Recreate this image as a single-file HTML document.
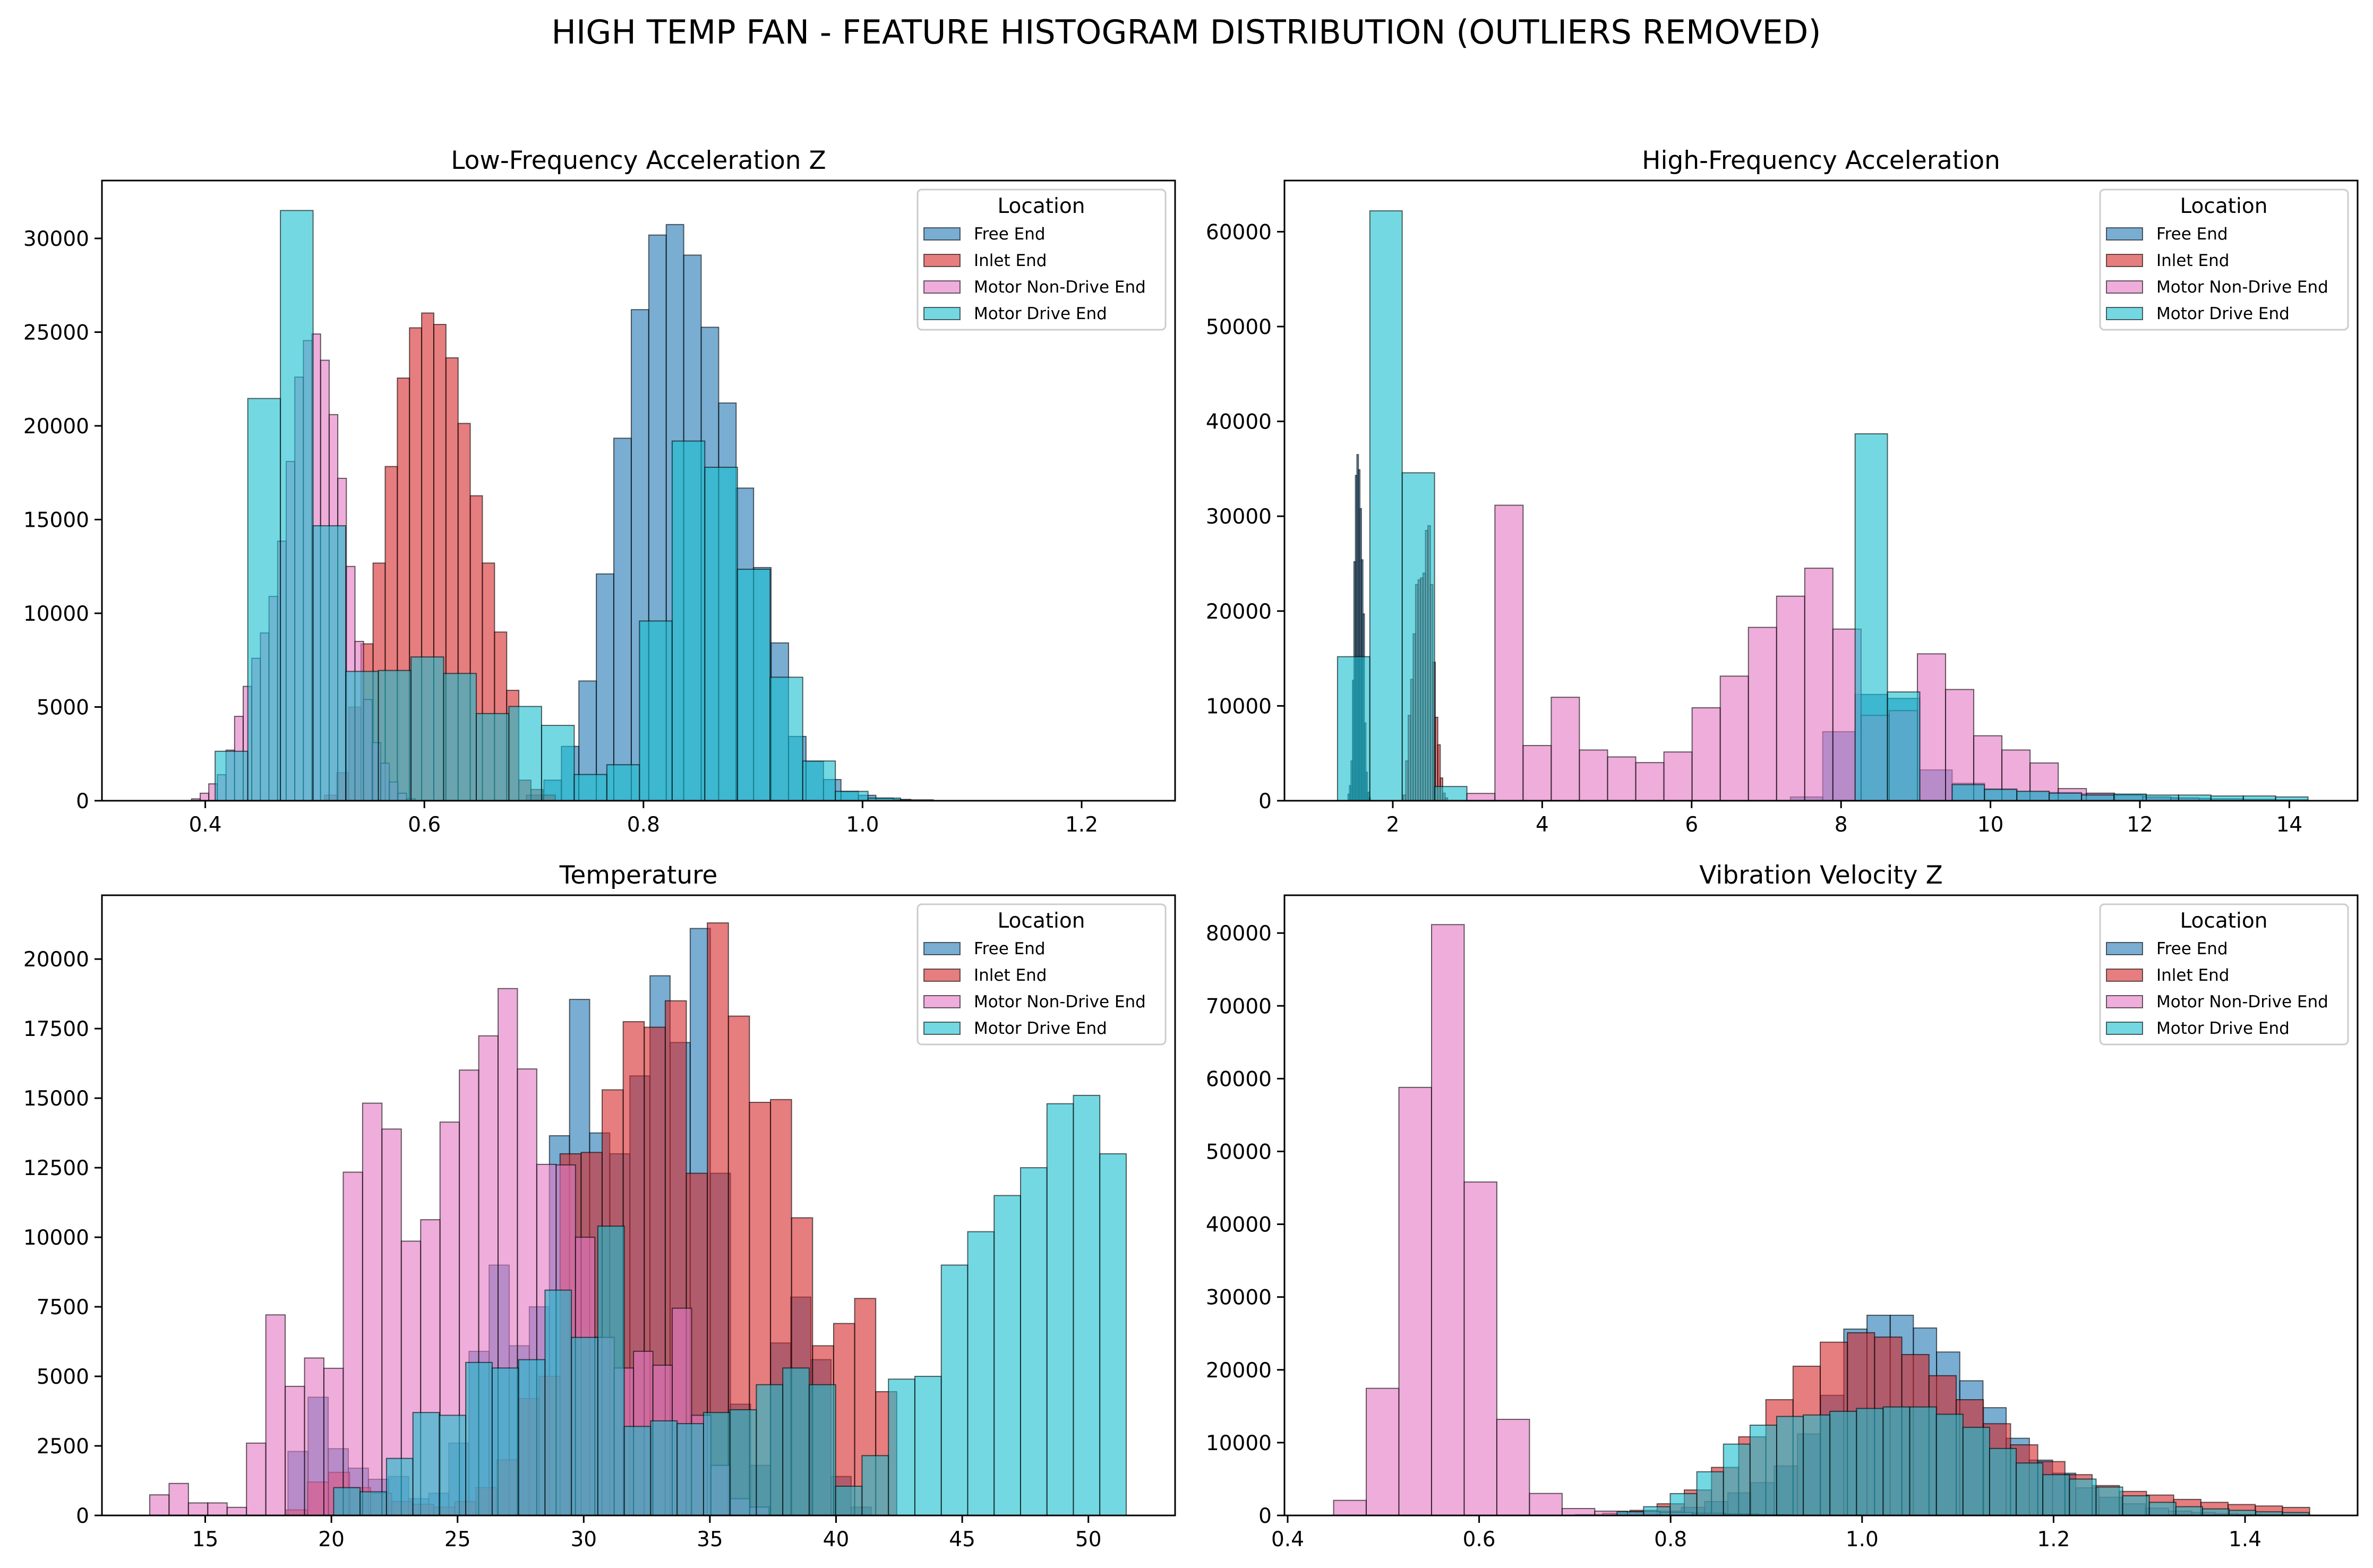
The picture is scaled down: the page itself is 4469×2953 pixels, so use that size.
<!DOCTYPE html>
<html><head><meta charset="utf-8"><style>
html,body{margin:0;padding:0;background:#fff}
svg{display:block}
text{font-family:"DejaVu Sans","Liberation Sans",sans-serif;fill:#000}
</style></head><body>
<svg id="fig" xmlns="http://www.w3.org/2000/svg" width="4469" height="2953" viewBox="0 0 4469 2953">
<rect width="4469" height="2953" fill="#fff"/>
<text x="2234" y="82" font-size="62" text-anchor="middle">HIGH TEMP FAN - FEATURE HISTOGRAM DISTRIBUTION (OUTLIERS REMOVED)</text>
</svg>
<script>
// ---------- Low-Frequency Acceleration Z ----------
const lfFreeStart=0.6932, lfFreeWidth=0.01595;
const lfFreeCounts=[300,1100,2900,6390,12100,19340,26200,30180,30740,29110,25260,21220,16680,12440,8420,3430,2100,1130,500,290,140,70];
const lfInletStart=0.5088, lfInletWidth=0.01109;
const lfInletCounts=[300,1500,5000,8370,12680,17830,22550,25230,26020,25410,23630,20130,16270,12680,9000,5890,1100,600,300];
const lfNonDriveStart=0.3875, lfNonDriveWidth=0.00785;
const lfNonDriveCounts=[100,400,900,1390,2700,4500,6100,7600,8950,10900,13850,18100,22600,24550,24900,23500,20600,17200,12500,8500,5400,3100,2000,1000,400,100];
const lfDriveStart=0.409, lfDriveWidth=0.0298;
const lfDriveCounts=[2640,21460,31490,14670,6900,6950,7670,6790,4650,5030,4020,1400,1920,9590,19190,17790,12350,6590,2120,500,140,50];
// ---------- High-Frequency Acceleration ----------
const hfFreeSpikeStart=1.40, hfFreeSpikeWidth=0.02;
const hfFreeSpikeCounts=[700,1600,4200,12700,25200,34300,36500,34900,30800,25400,19700,8200,3000,900,300];
const hfFreeStart=1.26, hfFreeWidth=0.433;
const hfFreeCounts=[0,0,0,0,0,0,0,0,0,0,0,0,0,0,400,7280,11210,10790,3250,1840,1240,940,860,730,640,300,250,200,150,100];
const hfInletStart=2.14, hfInletWidth=0.033;
const hfInletCounts=[600,4200,9000,12800,17600,22800,23300,23500,24000,28500,29000,22800,14600,8800,5900,2400,800,300];
const hfNonDriveStart=2.99, hfNonDriveWidth=0.377;
const hfNonDriveCounts=[770,31160,5820,10910,5350,4620,4020,5140,9800,13140,18280,21570,24520,18100,9000,9500,15490,11730,6850,5350,3980,1280,800,600,400,300];
const hfDriveStart=1.26, hfDriveWidth=0.433;
const hfDriveCounts=[15190,62200,34580,1500,0,0,0,0,0,0,0,0,0,0,0,0,38690,11470,0,1700,1200,1000,800,600,700,600,600,500,500,400];
// ---------- Temperature ----------
const tFreeStart=18.28, tFreeWidth=0.797;
const tFreeCounts=[2300,4250,2400,1700,1300,1400,600,800,2600,5900,9000,6100,7500,13650,18550,13750,13000,15800,19400,17000,21100,12300,4000,1800,6200,7850,5600,1400,300];
const tInletStart=18.22, tInletWidth=0.834;
const tInletCounts=[200,1200,1550,1000,800,500,400,300,500,1000,2000,4200,5000,13000,13050,15300,17750,17550,18500,12300,21300,17950,14850,14950,10700,6100,6900,7800,4450];
const tNonDriveStart=12.80, tNonDriveWidth=0.767;
const tNonDriveCounts=[740,1150,450,450,290,2600,7210,4640,5660,5290,12340,14820,13890,9860,10630,14140,16010,17240,18940,16050,12620,12600,10000,6400,5300,5900,5400,7450,3600,1800,600,300];
const tDriveStart=20.09, tDriveWidth=1.047;
const tDriveCounts=[1000,850,2050,3700,3600,5500,5300,5600,8100,6400,10400,3200,3400,3300,3700,3800,4700,5300,4700,1050,2150,4900,5000,9000,10200,11500,12500,14800,15100,13000];
// ---------- Vibration Velocity Z ----------
const vFreeStart=0.7386, vFreeWidth=0.02423;
const vFreeCounts=[100,300,600,1100,1900,3100,4500,6800,11200,16500,25600,27500,27500,25750,22450,18500,14800,10600,7600,5800,3800,2500,1600,1000,600,400,250,150,100,60,30];
const vInletStart=0.7007, vInletWidth=0.0284;
const vInletCounts=[100,300,700,1600,3500,6600,10800,15900,20500,23800,25100,24500,22100,19200,15900,12600,9700,7400,5600,4100,3300,2800,2200,1800,1500,1300,1100];
const vNonDriveStart=0.448, vNonDriveWidth=0.0341;
const vNonDriveCounts=[2070,17460,58800,81160,45800,13200,3020,950,590,530,400,300,200,100];
const vDriveStart=0.744, vDriveWidth=0.0278;
const vDriveCounts=[500,1200,3000,6000,9800,12400,13600,13800,14300,14700,14900,14900,13900,12100,9200,7200,5600,5000,3900,2700,1800,1200,900,700,500,400];

const seriesNames=["Free End","Inlet End","Motor Non-Drive End","Motor Drive End"];
const tlXTicks=[0.4,0.6,0.8,1.0,1.2], tlYTicks=[0,5000,10000,15000,20000,25000,30000];
const trXTicks=[2,4,6,8,10,12,14], trYTicks=[0,10000,20000,30000,40000,50000,60000];
const blXTicks=[15,20,25,30,35,40,45,50], blYTicks=[0,2500,5000,7500,10000,12500,15000,17500,20000];
const brXTicks=[0.4,0.6,0.8,1.0,1.2,1.4], brYTicks=[0,10000,20000,30000,40000,50000,60000,70000,80000];

const COLORS=["#1f77b4","#d62728","#e377c2","#17becf"];
const NS="http://www.w3.org/2000/svg";
const svg=document.getElementById('fig');
function mk(tag,attrs,parent){const e=document.createElementNS(NS,tag);for(const k in attrs)e.setAttribute(k,attrs[k]);(parent||svg).appendChild(e);return e;}

function panel(cfg){
  const g=mk('g',{});
  
  
  const x=v=>cfg.x0px+(v-cfg.x0v)*cfg.xs;
  const y=c=>cfg.B-c*cfg.ys;
  cfg.series.forEach((ser,si)=>{
    ser.forEach(seg=>{
      seg.counts.forEach((c,i)=>{
        if(c<=0)return;
        const x1=x(seg.start+i*seg.width), x2=x(seg.start+(i+1)*seg.width);
        const r=mk('rect',{x:x1,y:y(c),width:Math.max(x2-x1,1),height:y(0)-y(c),fill:COLORS[si],'fill-opacity':0.6,stroke:'rgba(0,0,0,0.6)','stroke-width':2},g);
        
        
      });
    });
  });
  const fr=mk('rect',{x:cfg.L,y:cfg.T,width:cfg.R-cfg.L,height:cfg.B-cfg.T,fill:'none',stroke:'#000','stroke-width':3},g);
  
  
  cfg.xt.forEach(v=>{
    const px=x(v);
    mk('line',{x1:px,x2:px,y1:cfg.B,y2:cfg.B+14,stroke:'#000','stroke-width':3},g);
    const t=mk('text',{x:px,y:cfg.B+58,'font-size':39,'text-anchor':'middle'},g);
    t.textContent=cfg.xfmt(v);
    
    
  });
  cfg.yt.forEach(v=>{
    const py=y(v);
    mk('line',{x1:cfg.L-14,x2:cfg.L,y1:py,y2:py,stroke:'#000','stroke-width':3},g);
    const t=mk('text',{x:cfg.L-24,y:py+14,'font-size':39,'text-anchor':'end'},g);
    t.textContent=String(v);
    
    
  });
  const tt=mk('text',{x:(cfg.L+cfg.R)/2,y:cfg.T-22,'font-size':47,'text-anchor':'middle'},g);
  tt.textContent=cfg.title;
  
  
  const lg=mk('g',{},g);
  
  
  const lx=cfg.R-18-467, ly=cfg.T+17;
  mk('rect',{x:lx,y:ly,width:467,height:264,rx:8,fill:'#fff','fill-opacity':0.8,stroke:'#ccc','stroke-width':3},lg);
  const lt=mk('text',{x:lx+233,y:ly+44,'font-size':39,'text-anchor':'middle'},lg);
  lt.textContent='Location';
  
  
  seriesNames.forEach((n,i)=>{
    const cy=ly+83+i*50;
    mk('rect',{x:lx+12,y:cy-11,width:68,height:23,fill:COLORS[i],'fill-opacity':0.6,stroke:'rgba(0,0,0,0.6)','stroke-width':2},lg);
    const et=mk('text',{x:lx+106,y:cy+11,'font-size':31},lg);
    et.textContent=n;
    
    
  });
}
const f1=v=>v.toFixed(1);
panel({name:'low-frequency-acceleration-panel',title:'Low-Frequency Acceleration Z',L:192,R:2213,T:340,B:1508,x0px:386.6,x0v:0.4,xs:2063,ys:0.0353,xt:tlXTicks,yt:tlYTicks,xfmt:f1,
 series:[[{start:lfFreeStart,width:lfFreeWidth,counts:lfFreeCounts}],[{start:lfInletStart,width:lfInletWidth,counts:lfInletCounts}],[{start:lfNonDriveStart,width:lfNonDriveWidth,counts:lfNonDriveCounts}],[{start:lfDriveStart,width:lfDriveWidth,counts:lfDriveCounts}]]});
panel({name:'high-frequency-acceleration-panel',title:'High-Frequency Acceleration',L:2419,R:4440,T:340,B:1508,x0px:2623,x0v:2,xs:140.7,ys:0.01786,xt:trXTicks,yt:trYTicks,xfmt:v=>String(v),
 series:[[{start:hfFreeSpikeStart,width:hfFreeSpikeWidth,counts:hfFreeSpikeCounts},{start:hfFreeStart,width:hfFreeWidth,counts:hfFreeCounts}],[{start:hfInletStart,width:hfInletWidth,counts:hfInletCounts}],[{start:hfNonDriveStart,width:hfNonDriveWidth,counts:hfNonDriveCounts}],[{start:hfDriveStart,width:hfDriveWidth,counts:hfDriveCounts}]]});
panel({name:'temperature-panel',title:'Temperature',L:192,R:2213,T:1686,B:2854,x0px:386.5,x0v:15,xs:47.52,ys:0.05239,xt:blXTicks,yt:blYTicks,xfmt:v=>String(v),
 series:[[{start:tFreeStart,width:tFreeWidth,counts:tFreeCounts}],[{start:tInletStart,width:tInletWidth,counts:tInletCounts}],[{start:tNonDriveStart,width:tNonDriveWidth,counts:tNonDriveCounts}],[{start:tDriveStart,width:tDriveWidth,counts:tDriveCounts}]]});
panel({name:'vibration-velocity-panel',title:'Vibration Velocity Z',L:2419,R:4440,T:1686,B:2854,x0px:2425,x0v:0.4,xs:1803,ys:0.01371,xt:brXTicks,yt:brYTicks,xfmt:f1,
 series:[[{start:vFreeStart,width:vFreeWidth,counts:vFreeCounts}],[{start:vInletStart,width:vInletWidth,counts:vInletCounts}],[{start:vNonDriveStart,width:vNonDriveWidth,counts:vNonDriveCounts}],[{start:vDriveStart,width:vDriveWidth,counts:vDriveCounts}]]});
</script>
</body></html>
